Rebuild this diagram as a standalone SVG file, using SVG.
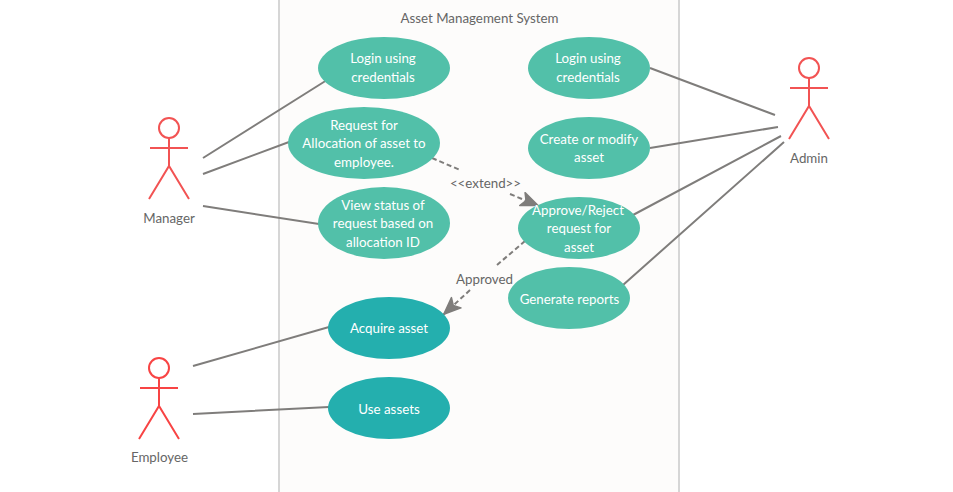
<svg xmlns="http://www.w3.org/2000/svg" width="953" height="492" viewBox="0 0 953 492">
<style>
text{font-family:Lato,"Liberation Sans",sans-serif;font-size:13.33px;text-anchor:middle}
.u text{fill:#fff}
.l{fill:#666}
.g ellipse{fill:#52c0a9}
.t ellipse{fill:#24afae}
.a circle,.a path{fill:none;stroke-width:2;stroke:#f25353}
.e circle,.e path{stroke:#f84444}
.c{fill:none;stroke:#7f7d7b;stroke-width:2}
.d{stroke-dasharray:5 3}
</style>
<defs><marker id="h" markerUnits="userSpaceOnUse" markerWidth="24" markerHeight="24" refX="19" refY="9" orient="auto"><path d="M1 2L18 9L1 16L5 9Z" fill="#7f7d7b" stroke="#7f7d7b" stroke-width="1.500" stroke-linejoin="round"/></marker></defs>
<rect width="953" height="492" fill="#fff"/>
<g id="boundary"><rect x="279" y="-5" width="400" height="502" fill="#fdfcfb" stroke="#d6d6d6" stroke-width="2"/><text class="l" x="479.500" y="23">Asset Management System</text></g>
<g id="connectors">
<path class="c" d="M203 158L327 80M203 174L289 142M203 206L319 224M193 366L329 327M193 414L329 407M650 68L775 115M650 148L778 127M633 215L781 136M623 285L784 142"/>
<path class="c d" d="M432 158L460 170"/>
<path class="c d" d="M510 194L539 206" marker-end="url(#h)"/>
<path class="c d" d="M525 241L497 265"/>
<path class="c d" d="M470 290L443 315" marker-end="url(#h)"/>
</g>
<text class="l" x="485.500" y="188">&lt;&lt;extend&gt;&gt;</text>
<text class="l" x="484.500" y="284">Approved</text>
<g id="uc1" class="u g"><ellipse cx="384" cy="68" rx="66" ry="31"/><text x="383" y="63">Login using</text><text x="383" y="82">credentials</text></g>
<g id="uc2" class="u g"><ellipse cx="364" cy="143" rx="76" ry="36"/><text x="364" y="130">Request for</text><text x="364" y="148">Allocation of asset to</text><text x="364" y="167">employee.</text></g>
<g id="uc3" class="u g"><ellipse cx="384" cy="223" rx="66" ry="36"/><text x="383" y="210">View status of</text><text x="383" y="228">request based on</text><text x="383" y="247">allocation ID</text></g>
<g id="uc4" class="u g"><ellipse cx="589" cy="68" rx="61" ry="31"/><text x="588" y="63">Login using</text><text x="588" y="82">credentials</text></g>
<g id="uc5" class="u g"><ellipse cx="589" cy="148" rx="61" ry="31"/><text x="589" y="144">Create or modify</text><text x="589" y="162">asset</text></g>
<g id="uc6" class="u g"><ellipse cx="579" cy="228" rx="61" ry="31"/><text x="578" y="215">Approve/Reject</text><text x="579" y="233">request for</text><text x="579" y="252">asset</text></g>
<g id="uc7" class="u g"><ellipse cx="569" cy="298" rx="61" ry="31"/><text x="569.500" y="304">Generate reports</text></g>
<g id="uc8" class="u t"><ellipse cx="389" cy="328" rx="61" ry="31"/><text x="389" y="333">Acquire asset</text></g>
<g id="uc9" class="u t"><ellipse cx="389" cy="408" rx="61" ry="31"/><text x="389" y="414">Use assets</text></g>
<g id="manager" class="a"><circle cx="169" cy="128" r="10"/><path d="M169 138V166M150 148H188M149 199L169 166L189 199"/><text class="l" x="169" y="223">Manager</text></g>
<g id="admin" class="a"><circle cx="809" cy="68" r="10"/><path d="M809 78V106M790 88H828M789 139L809 106L829 139"/><text class="l" x="809" y="163">Admin</text></g>
<g id="employee" class="a e"><circle cx="159" cy="368" r="10"/><path d="M159 378V406M140 388H178M139 439L159 406L179 439"/><text class="l" x="159.500" y="462">Employee</text></g>
</svg>
